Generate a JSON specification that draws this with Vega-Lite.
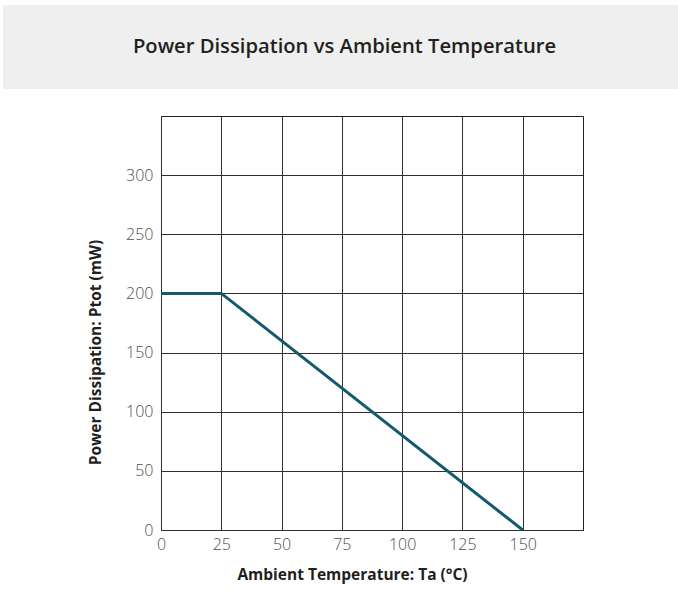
{
  "$schema": "https://vega.github.io/schema/vega-lite/v6.json",
  "background": "white",
  "padding": {"left": 3, "top": 5, "right": 0, "bottom": 5},
  "spacing": 26,
  "config": {"view": {"stroke": null}, "font": "Open Sans"},
  "vconcat": [
    {
      "width": 675,
      "height": 84,
      "view": {"fill": "#efefef", "stroke": null},
      "data": {"values": [{"title": "Power Dissipation vs Ambient Temperature"}]},
      "mark": {
        "type": "text",
        "dx": 4,
        "font": "Open Sans",
        "fontWeight": 600,
        "fontSize": 20.2,
        "color": "#231f20",
        "align": "center",
        "baseline": "middle"
      },
      "encoding": {
        "text": {"field": "title"},
        "x": {"datum": 0.5, "type": "quantitative", "scale": {"domain": [0, 1]}, "axis": null},
        "y": {"datum": 0.5, "type": "quantitative", "scale": {"domain": [0, 1]}, "axis": null}
      }
    },
    {
      "spacing": 0,
      "hconcat": [
        {
          "width": 85,
          "height": 1,
          "data": {"values": []},
          "mark": "point"
        },
        {
          "width": 422,
          "height": 414,
          "view": {"stroke": "#231f20", "strokeWidth": 1},
          "data": {
            "values": [
              {"temp": 0, "power": 200},
              {"temp": 25, "power": 200},
              {"temp": 150, "power": 0}
            ]
          },
          "mark": {"type": "line", "color": "#145a6e", "strokeWidth": 3, "strokeCap": "butt"},
          "encoding": {
            "x": {
              "field": "temp",
              "type": "quantitative",
              "scale": {"domain": [0, 175], "nice": false, "zero": false},
              "axis": {
                "title": "Ambient Temperature: Ta (°C)",
                "values": [0, 25, 50, 75, 100, 125, 150],
                "grid": true,
                "gridColor": "#332f2f",
                "gridOpacity": 1,
                "gridWidth": 1,
                "domain": false,
                "ticks": false,
                "labelColor": "#4d4d4d",
                "labelFont": "Open Sans",
                "labelFontWeight": 300,
                "labelFontSize": 16,
                "labelPadding": 6,
                "labelFlush": false,
                "labelOverlap": false,
                "titleFont": "Open Sans",
                "titleFontWeight": "bold",
                "titleFontSize": 15.5,
                "titleColor": "#231f20",
                "titlePadding": 15,
                "titleX": 191
              }
            },
            "y": {
              "field": "power",
              "type": "quantitative",
              "scale": {"domain": [0, 350], "nice": false, "zero": false},
              "axis": {
                "title": "Power Dissipation: Ptot (mW)",
                "values": [0, 50, 100, 150, 200, 250, 300],
                "grid": true,
                "gridColor": "#332f2f",
                "gridOpacity": 1,
                "gridWidth": 1,
                "domain": false,
                "ticks": false,
                "labelColor": "#4d4d4d",
                "labelFont": "Open Sans",
                "labelFontWeight": 300,
                "labelFontSize": 16,
                "labelPadding": 8,
                "labelFlush": false,
                "labelOverlap": false,
                "titleFont": "Open Sans",
                "titleFontWeight": "bold",
                "titleFontSize": 15.5,
                "titleColor": "#231f20",
                "titlePadding": 22,
                "titleY": 236
              }
            }
          }
        }
      ]
    }
  ]
}
